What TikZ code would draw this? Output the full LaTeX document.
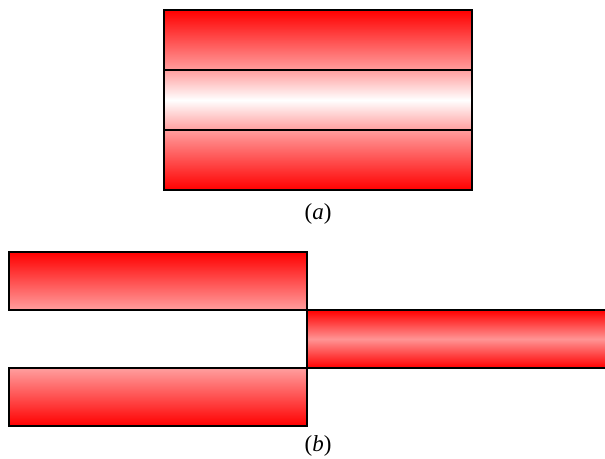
\documentclass[tikz,border=0pt]{standalone}
\usepackage{fontspec}
\setmainfont{Liberation Serif}
\usepackage{tikz}
\usepackage{xcolor}

\begin{document}
\begin{tikzpicture}[x=1pt,y=-1pt,line width=1.2pt,
  redtop/.style={draw=black,top color=red,bottom color=red!38},
  redbot/.style={draw=black,top color=red!38,bottom color=red},
  pinkmid/.style={draw=black,top color=red!38,bottom color=red!38,middle color=white},
  redout/.style={draw=black,top color=red,bottom color=red,middle color=red!42},
  caption/.style={font=\fontsize{23}{26}\selectfont}]
\useasboundingbox (0,0) rectangle (605,458);
% (a) three layers
\shade[redtop] (164,10) rectangle (472,70);
\shade[pinkmid] (164,70) rectangle (472,130);
\shade[redbot] (164,130) rectangle (472,190);
\node[caption] (capa) at (318,214) {(\textit{a})};
% (b) split into two
\shade[redtop] (9,252) rectangle (307,310);
\shade[redbot] (9,368) rectangle (307,426);
\shade[redout] (307,310) rectangle (606,368);
\node[caption] (capb) at (318,446) {(\textit{b})};
\end{tikzpicture}
\end{document}
